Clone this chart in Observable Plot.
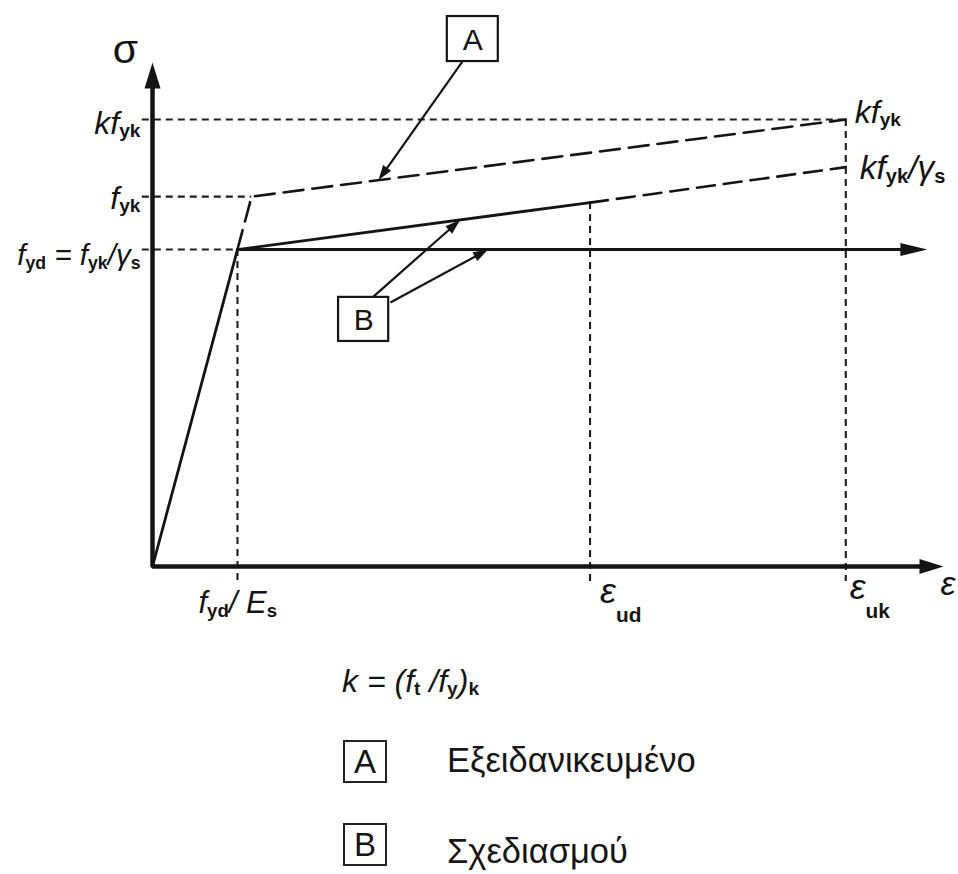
<!DOCTYPE html>
<html>
<head>
<meta charset="utf-8">
<script src="https://cdn.jsdelivr.net/npm/d3@7"></script>
<script src="https://cdn.jsdelivr.net/npm/@observablehq/plot@0.6"></script>
<style>
  html, body { margin: 0; padding: 0; background: #fff; }
  #fig { position: relative; width: 958px; height: 874px; overflow: hidden;
         font-family: "Liberation Sans", Arial, sans-serif; color: #161616; }
  #chart svg { display: block; }
  .abs { position: absolute; line-height: 1; white-space: nowrap; }
  .eq { font-style: italic; font-size: 32px; }
  .eq sub { font-style: normal; font-weight: bold; font-size: 0.6em; vertical-align: baseline;
            position: relative; top: 0.15em; line-height: 0; }
  .key { box-sizing: border-box; width: 44px; height: 43px; border: 2px solid #222;
         display: flex; align-items: center; justify-content: center; font-size: 33px; }
  .keytext { font-size: 34.5px; }
</style>
</head>
<body>
<div id="fig">
  <div id="chart"></div>
  <div class="abs eq" style="left:342px; top:665px;">k = (f<sub>t</sub> /f<sub>y</sub>)<sub>k</sub></div>
  <div class="abs key" style="left:343px; top:740px;">A</div>
  <div class="abs keytext" style="left:447px; top:743px;">Εξειδανικευμένο</div>
  <div class="abs key" style="left:343px; top:823px;">B</div>
  <div class="abs keytext" style="left:447px; top:834px;">Σχεδιασμού</div>
</div>
<script>
// Strain levels, in units of fyd/Es: yield (design), εud, εuk
const strainLevels = [1, 5.15, 8.16];
const strainLabels = ["f_{yd}/ E_{s}", "ε__{ud}", "ε__{uk}"];

// Stress levels, in units of fyd: fyd, fyk, k·fyk
const stressLevels = [1, 1.167, 1.41];
const stressLabels = ["f_{yd} = f_{yk}/γ_{s}", "f_{yk}", "kf_{yk}"];

// Curve A (idealised): elastic branch up to fyk, then hardening up to k·fyk at εuk
const idealStrain = [0, 1.167, 8.16];
const idealStress = [0, 1.167, 1.41];

// Curve B (design), inclined top branch: solid up to εud, dashed on to εuk
const designStrain = [0, 1, 5.15, 8.16];
const designStress = [0, 1, 1.148, 1.26];

// Curve B (design), horizontal top branch without strain limit
const plateauStrain = [1, 9.12];
const plateauStress = [1, 1];

// Labels at the end of the top branches
const endLabels = ["kf_{yk}", "kf_{yk}/γ_{s}"];

// Callout arrows: tail on the box, tip on the curve
const calloutTail = [[3.647, 1.593], [2.59, 0.849], [2.80, 0.833]];
const calloutTip  = [[2.66, 1.219], [3.62, 1.093], [3.95, 1.0]];

// ---- layout ----
const W = 958, H = 640;
const M = {top: 62, right: 15, bottom: 74, left: 152};
const xMax = 9.31, yMax = 1.59;
const kx = (W - M.left - M.right) / xMax;   // px per strain unit
const ky = (H - M.top - M.bottom) / yMax;   // px per stress unit
const ink = "#141414", thin = "#1e1e1e";
const font = "Liberation Sans, Arial, sans-serif";

const pts = (xs, ys) => d3.zip(xs, ys);

// Arrow geometry in screen space: rotation of the head and a shortened shaft
function arrow(tail, tip, head) {
  const dxp = (tip[0] - tail[0]) * kx, dyp = (tip[1] - tail[1]) * ky;
  const len = Math.hypot(dxp, dyp);
  const t = 1 - (head * 0.7) / len;
  return {
    tail, tip,
    end: [tail[0] + (tip[0] - tail[0]) * t, tail[1] + (tip[1] - tail[1]) * t],
    rot: Math.atan2(dxp, dyp) * 180 / Math.PI
  };
}
const callouts = calloutTail.map((t, i) => arrow(t, calloutTip[i], 15));

// Reference (dashed) guides
const hGuides = [
  {y: stressLevels[0], x2: strainLevels[0]},
  {y: stressLevels[1], x2: idealStrain[1]},
  {y: stressLevels[2], x2: strainLevels[2]}
];
const vGuides = [
  {x: strainLevels[0], y1: designStress[1]},
  {x: strainLevels[1], y1: designStress[2]},
  {x: strainLevels[2], y1: idealStress[2]}
];

// A starts dashed from the design yield point, which lies on its elastic branch
const idealDashed = [[strainLevels[0], stressLevels[0]], ...pts(idealStrain, idealStress).slice(1)];
const designSolid = pts(designStrain, designStress).slice(0, 3);
const designDashed = pts(designStrain, designStress).slice(2);
const plateauEndHead = 27;
const plateau = [[plateauStrain[0], plateauStress[0]], [plateauStrain[1] - plateauEndHead * 0.8 / kx, plateauStress[1]]];

const yHead = 26, xHead = 24;
const axesPath = [[xMax - xHead * 0.8 / kx, 0], [0, 0], [0, yMax - yHead * 0.8 / ky]];

const boxes = [
  {x1: 3.47, x2: 4.07, y1: 1.593, y2: 1.735, label: "A"},
  {x1: 2.19, x2: 2.78, y1: 0.710, y2: 0.849, label: "B"}
];

const txt = (data, opts) => Plot.text(data, {fontFamily: font, fill: ink, ...opts});

const chart = Plot.plot({
  width: W, height: H,
  marginTop: M.top, marginRight: M.right, marginBottom: M.bottom, marginLeft: M.left,
  x: {domain: [0, xMax], axis: null},
  y: {domain: [0, yMax], axis: null},
  style: {background: "white", overflow: "visible"},
  marks: [
    // guides
    Plot.ruleY(hGuides, {y: "y", x1: -0.12, x2: "x2", stroke: thin, strokeWidth: 2.1, strokeDasharray: "7,5"}),
    Plot.ruleX(vGuides, {x: "x", y1: "y1", y2: -0.047, stroke: thin, strokeWidth: 2.1, strokeDasharray: "7,5"}),
    // curves
    Plot.line(idealDashed, {stroke: ink, strokeWidth: 2.6, strokeDasharray: "20,9", strokeLinejoin: "miter"}),
    Plot.line(designDashed, {stroke: ink, strokeWidth: 2.6, strokeDasharray: "18,9"}),
    Plot.line(designSolid, {stroke: ink, strokeWidth: 2.8, strokeLinejoin: "miter"}),
    Plot.line(plateau, {stroke: ink, strokeWidth: 3.2}),
    Plot.vector([[plateauStrain[1], plateauStress[1]]], {x: "0", y: "1", rotate: 90, length: plateauEndHead, r: 6.5, shape: "spike", anchor: "end", fill: ink, stroke: "none"}),
    // axes
    Plot.line(axesPath, {stroke: ink, strokeWidth: 4.5, strokeLinejoin: "miter"}),
    Plot.vector([[0, yMax]], {x: "0", y: "1", rotate: 0, length: yHead, r: 8, shape: "spike", anchor: "end", fill: ink, stroke: "none"}),
    Plot.vector([[xMax, 0]], {x: "0", y: "1", rotate: 90, length: xHead, r: 7.5, shape: "spike", anchor: "end", fill: ink, stroke: "none"}),
    // callouts
    Plot.link(callouts, {x1: d => d.tail[0], y1: d => d.tail[1], x2: d => d.end[0], y2: d => d.end[1], stroke: ink, strokeWidth: 2.2}),
    Plot.vector(callouts, {x: d => d.tip[0], y: d => d.tip[1], rotate: "rot", length: 15, r: 5, shape: "spike", anchor: "end", fill: ink, stroke: "none"}),
    Plot.rect(boxes, {x1: "x1", x2: "x2", y1: "y1", y2: "y2", fill: "white", stroke: ink, strokeWidth: 2.2}),
    txt(boxes, {x: d => (d.x1 + d.x2) / 2, y: d => (d.y1 + d.y2) / 2, text: "label", fontSize: 30, dy: 1}),
    // stress labels on the σ axis
    txt([stressLabels[2]], {x: 0, y: stressLevels[2], text: d => d, textAnchor: "end", dx: -12, dy: 3.8, fontSize: 32, fontStyle: "italic"}),
    txt([stressLabels[1]], {x: 0, y: stressLevels[1], text: d => d, textAnchor: "end", dx: -12, dy: 1.8, fontSize: 32, fontStyle: "italic"}),
    txt([stressLabels[0]], {x: 0, y: stressLevels[0], text: d => d, textAnchor: "end", dx: -12, dy: 6.5, fontSize: 29.5, fontStyle: "italic"}),
    // labels at the end of the top branches
    txt([endLabels[0]], {x: strainLevels[2], y: idealStress[2], text: d => d, textAnchor: "start", dx: 9, dy: -7.2, fontSize: 32, fontStyle: "italic"}),
    txt([endLabels[1]], {x: strainLevels[2], y: designStress[3], text: d => d, textAnchor: "start", dx: 14, dy: 0.8, fontSize: 33.5, fontStyle: "italic"}),
    // strain labels on the ε axis
    txt([strainLabels[0]], {x: strainLevels[0], y: 0, text: d => d, textAnchor: "start", dx: -39, dy: 37, fontSize: 31, fontStyle: "italic"}),
    txt([strainLabels[1]], {x: strainLevels[1], y: 0, text: d => d, textAnchor: "start", dx: 10, dy: 24.5, fontSize: 36, fontStyle: "italic"}),
    txt([strainLabels[2]], {x: strainLevels[2], y: 0, text: d => d, textAnchor: "start", dx: 4, dy: 20.5, fontSize: 36, fontStyle: "italic"}),
    // axis names
    txt(["σ"], {x: 0, y: yMax, text: d => d, textAnchor: "middle", dx: -27, dy: -13, fontSize: 41}),
    txt(["ε"], {x: xMax, y: 0, text: d => d, textAnchor: "start", dx: -3, dy: 18, fontSize: 34, fontStyle: "italic"})
  ]
});

document.getElementById("chart").append(chart);

// Turn "_{..}" (subscript) and "__{..}" (lowered subscript) into tspans
function subscripts(svg) {
  svg.querySelectorAll("text").forEach(t => {
    const s = t.textContent;
    if (!s.includes("_{")) return;
    const fs = parseFloat(getComputedStyle(t).fontSize);
    const ns = "http://www.w3.org/2000/svg";
    t.textContent = "";
    let shift = 0;
    const add = (str, sub) => {
      const sp = document.createElementNS(ns, "tspan");
      sp.textContent = str;
      const target = sub ? fs * sub.shift : 0;
      if (target !== shift) sp.setAttribute("dy", (target - shift).toFixed(2));
      shift = target;
      if (sub) {
        sp.setAttribute("font-size", (fs * sub.size).toFixed(2));
        sp.setAttribute("font-style", "normal");
        sp.setAttribute("font-weight", "bold");
      }
      t.appendChild(sp);
    };
    const re = /(__?)\{([^}]*)\}/g;
    let last = 0, m;
    while ((m = re.exec(s))) {
      if (m.index > last) add(s.slice(last, m.index), null);
      add(m[2], m[1] === "__" ? {size: 0.58, shift: 0.55} : {size: 0.6, shift: 0.12});
      last = re.lastIndex;
    }
    if (last < s.length) add(s.slice(last), null);
  });
}
subscripts(chart);
</script>
</body>
</html>
